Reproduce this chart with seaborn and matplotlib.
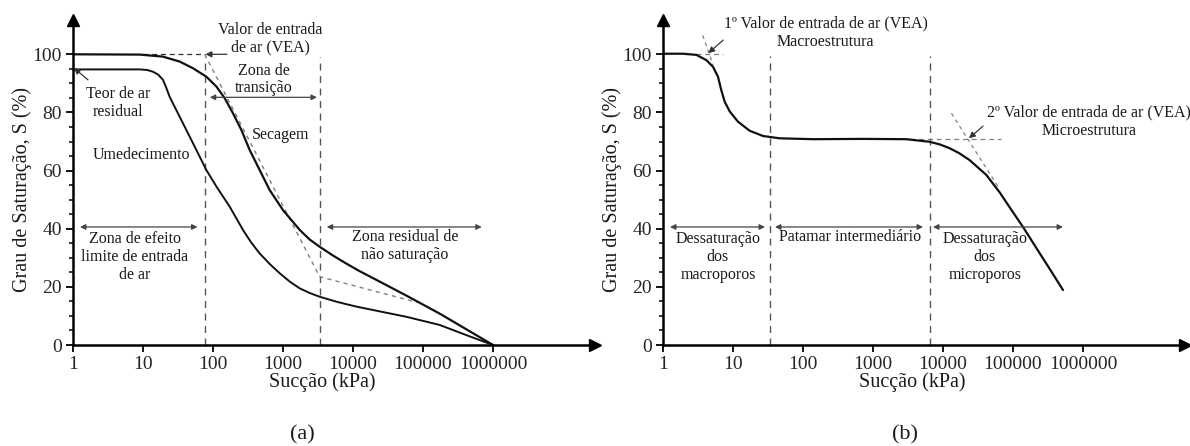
import matplotlib
matplotlib.use("Agg")
import matplotlib.pyplot as plt
from matplotlib.ticker import FixedLocator, FixedFormatter, NullLocator
import seaborn as sns

# ---------------- data ----------------
# (a) drying / wetting soil-water retention curves
dry_suction = [1, 9, 19.3, 33.4, 51.8, 80.3, 112, 147, 193, 254, 334, 464,
               645, 1000, 1730, 2400, 3340, 5000, 8030, 12000, 19300, 30000,
               57800, 90000, 173000, 416000, 1000000]
dry_sat = [100, 99.9, 99.2, 97.5, 95.2, 92.3, 88.9, 84.9, 79.7, 74, 67.1,
           60.2, 53.3, 46.4, 39.6, 36.3, 33.8, 31.0, 28.0, 25.6, 23.0, 20.6,
           17.0, 14.5, 10.8, 5.4, 0]

wet_suction = [1, 9, 11.5, 13.9, 16.5, 19.3, 21.5, 24, 33.4, 46.4, 64.5, 80.3,
               112, 173, 268, 350, 464, 650, 896, 1250, 1730, 2400, 3340, 6000,
               11200, 57800, 173000, 416000, 1000000]
wet_sat = [94.8, 94.8, 94.6, 94, 93, 91.2, 88.5, 85.4, 78.5, 71.7, 64.8, 60.2,
           54.5, 47.6, 39.6, 35.3, 31.5, 27.8, 24.7, 21.8, 19.5, 17.9, 16.6,
           14.8, 13.2, 9.7, 6.9, 3.4, 0]

# (b) bimodal retention curve
bi_suction = [1, 1.93, 3.0, 4.16, 5.18, 6.1, 6.8, 7.6, 9.0, 11.8, 17.3, 26.8,
              46.4, 139, 720, 2990, 6450, 9000, 12400, 17000, 24000, 41600,
              64500, 94700, 139000, 215000, 334000, 518000]
bi_sat = [100.2, 100.2, 99.8, 98, 95.7, 92.3, 87.7, 83.7, 80.3, 76.8, 73.7,
          71.9, 71.1, 70.8, 70.9, 70.8, 69.9, 69.0, 67.7, 66.0, 63.6, 58.5,
          52.5, 46.5, 40.6, 33.4, 26.2, 18.9]

# construction lines
aev_a = [76, 3380]                 # vertical limits of the zones in (a)
tangent_a_x = [76, 3340, 85000]
tangent_a_y = [100, 23.5, 14.6]
aev_b = [34.1, 6450]               # vertical limits of the zones in (b)
tan1_b_x = [3.7, 5.2]
tan1_b_y = [106.5, 96.3]
tan2_b_x = [13200, 61000]
tan2_b_y = [79.7, 54.5]
plateau_b = 70.9

x_ticks = [1, 10, 100, 1000, 10000, 100000, 1000000]
x_tick_labels = ["1", "10", "100", "1000", "10000", "100000", "1000000"]
y_ticks = [0, 20, 40, 60, 80, 100]
y_tick_labels = ["0", "20", "40", "60", "80", "100"]

# ---------------- style ----------------
sns.set_theme(style="white")
plt.rcParams["font.family"] = ["Liberation Serif", "DejaVu Serif"]
plt.rcParams["text.color"] = "#1a1a1a"
plt.rcParams["lines.solid_joinstyle"] = "round"
plt.rcParams["lines.solid_capstyle"] = "round"

W, H = 1190, 446
fig = plt.figure(figsize=(W / 100, H / 100), dpi=100)
fig.patch.set_facecolor("white")

XMAX = 10 ** 7.457
YMAX = 111.8
TXT = 11.5
TICK = 14
LAB = 14.5
DASH_DARK = "#555555"
DASH_LIGHT = "#808080"
ARROW = "#444444"


def fx(px):
    return px / W


def fy(py):
    return 1 - py / H


def setup_axes(left_px):
    ax = fig.add_axes([fx(left_px), fy(345), 522 / W, 325 / H])
    ax.set_xscale("log")
    ax.set_xlim(1, XMAX)
    ax.set_ylim(0, YMAX)
    for s in ("top", "right"):
        ax.spines[s].set_visible(False)
    for s in ("left", "bottom"):
        ax.spines[s].set_linewidth(1.8)
        ax.spines[s].set_color("black")
    ax.xaxis.set_major_locator(FixedLocator(x_ticks))
    ax.xaxis.set_major_formatter(FixedFormatter(x_tick_labels))
    ax.xaxis.set_minor_locator(NullLocator())
    ax.yaxis.set_major_locator(FixedLocator(y_ticks))
    ax.yaxis.set_major_formatter(FixedFormatter(y_tick_labels))
    ax.yaxis.set_minor_locator(FixedLocator([v for v in range(0, 101, 5)]))
    ax.tick_params(axis="both", which="major", direction="out", length=5,
                   width=1.3, color="black", labelsize=TICK, pad=3,
                   left=True, bottom=True)
    ax.tick_params(axis="y", which="minor", direction="out", length=3,
                   width=1.1, color="black", left=True)
    ax.patch.set_alpha(0)
    # arrow heads at the ends of the axes
    ax.plot([1], [YMAX], marker="^", color="black", markersize=9,
            clip_on=False, zorder=5)
    ax.plot([XMAX], [0], marker=">", color="black", markersize=9,
            clip_on=False, zorder=5)
    return ax


def dbl_arrow(ax, x1, x2, y):
    ax.annotate("", xy=(x2, y), xytext=(x1, y),
                arrowprops=dict(arrowstyle="<|-|>", color=ARROW, lw=0.9,
                                mutation_scale=8, shrinkA=0, shrinkB=0))


def arrow(ax, start, tip):
    ax.annotate("", xy=tip, xytext=start,
                arrowprops=dict(arrowstyle="-|>", color="#333333", lw=0.9,
                                mutation_scale=9, shrinkA=0, shrinkB=0))


# ---------------- panel (a) ----------------
ax = setup_axes(73)
for xv in aev_a:
    ax.plot([xv, xv], [0, 99], ls=(0, (5, 4)), color=DASH_DARK, lw=1.0)
ax.plot([10, aev_a[0]], [100, 100], ls=(0, (4, 3)), color="#333333", lw=0.9)
ax.plot(tangent_a_x, tangent_a_y, ls=(0, (3, 3)), color=DASH_LIGHT, lw=1.0)

sns.lineplot(x=dry_suction, y=dry_sat, ax=ax, color="#111111", linewidth=1.6,
             estimator=None, sort=False, legend=False)
sns.lineplot(x=wet_suction, y=wet_sat, ax=ax, color="#111111", linewidth=1.4,
             estimator=None, sort=False, legend=False)

ax.text(652, 105.3, "Valor de entrada\nde ar (VEA)", ha="center", va="center",
        fontsize=TXT, linespacing=1.15)
arrow(ax, (158, 100), (78, 100))
ax.text(537, 91.3, "Zona de\ntransição", ha="center", va="center",
        fontsize=TXT, linespacing=1.15)
dbl_arrow(ax, 90, 3050, 85.2)
ax.text(360, 72.2, "Secagem", ha="left", va="center", fontsize=TXT)
ax.text(9.5, 65.4, "Umedecimento", ha="center", va="center", fontsize=TXT)
ax.text(4.4, 83.2, "Teor de ar\nresidual", ha="center", va="center",
        fontsize=TXT, linespacing=1.15)
arrow(ax, (1.64, 91.2), (1.03, 95.3))
dbl_arrow(ax, 1.26, 60, 40.6)
ax.text(7.7, 30.3, "Zona de efeito\nlimite de entrada\nde ar", ha="center",
        va="center", fontsize=TXT, linespacing=1.2)
dbl_arrow(ax, 4220, 690000, 40.6)
ax.text(55300, 34, "Zona residual de\nnão saturação", ha="center",
        va="center", fontsize=TXT, linespacing=1.15)
ax.set_xlabel("")
ax.set_ylabel("")

# ---------------- panel (b) ----------------
bx = setup_axes(663)
for xv in aev_b:
    bx.plot([xv, xv], [0, 99.5], ls=(0, (5, 4)), color=DASH_DARK, lw=1.0)
bx.plot([3.0, 7.2], [100.2, 100.2], ls=(0, (4, 3)), color=DASH_LIGHT, lw=0.9)
bx.plot(tan1_b_x, tan1_b_y, ls=(0, (3, 3)), color=DASH_LIGHT, lw=0.9)
bx.plot([3400, 68000], [plateau_b, plateau_b], ls=(0, (4, 3)),
        color=DASH_LIGHT, lw=0.9)
bx.plot(tan2_b_x, tan2_b_y, ls=(0, (3, 3)), color=DASH_LIGHT, lw=0.9)

sns.lineplot(x=bi_suction, y=bi_sat, ax=bx, color="#111111", linewidth=1.6,
             estimator=None, sort=False, legend=False)

bx.text(210, 107.5, "1º Valor de entrada de ar (VEA)\nMacroestrutura",
        ha="center", va="center", fontsize=TXT, linespacing=1.2)
arrow(bx, (7.26, 104.9), (4.44, 100.4))
bx.text(1.22e6, 76.7, "2º Valor de entrada de ar (VEA)\nMicroestrutura",
        ha="center", va="center", fontsize=TXT, linespacing=1.2)
arrow(bx, (37300, 75.3), (23500, 71.1))

dbl_arrow(bx, 1.26, 28.6, 40.6)
bx.text(6.1, 30.3, "Dessaturação\ndos\nmacroporos", ha="center", va="center",
        fontsize=TXT, linespacing=1.2)
dbl_arrow(bx, 39.8, 5180, 40.6)
bx.text(470, 37.2, "Patamar intermediário", ha="center", va="center",
        fontsize=TXT)
dbl_arrow(bx, 7200, 518000, 40.6)
bx.text(39800, 30.3, "Dessaturação\ndos\nmicroporos", ha="center",
        va="center", fontsize=TXT, linespacing=1.2)
bx.set_xlabel("")
bx.set_ylabel("")

# ---------------- axis titles and panel tags ----------------
for off in (0, 590):
    fig.text(fx(22 + off), fy(189), "Grau de Saturação, S (%)", rotation=90,
             ha="center", va="center", fontsize=LAB)
    fig.text(fx(322 + off), fy(382), "Sucção (kPa)", ha="center",
             va="center", fontsize=LAB)
fig.text(fx(302), fy(435), "(a)", ha="center", va="center", fontsize=16)
fig.text(fx(905), fy(435), "(b)", ha="center", va="center", fontsize=16)

fig.savefig("out.png", dpi=100, facecolor="white")
